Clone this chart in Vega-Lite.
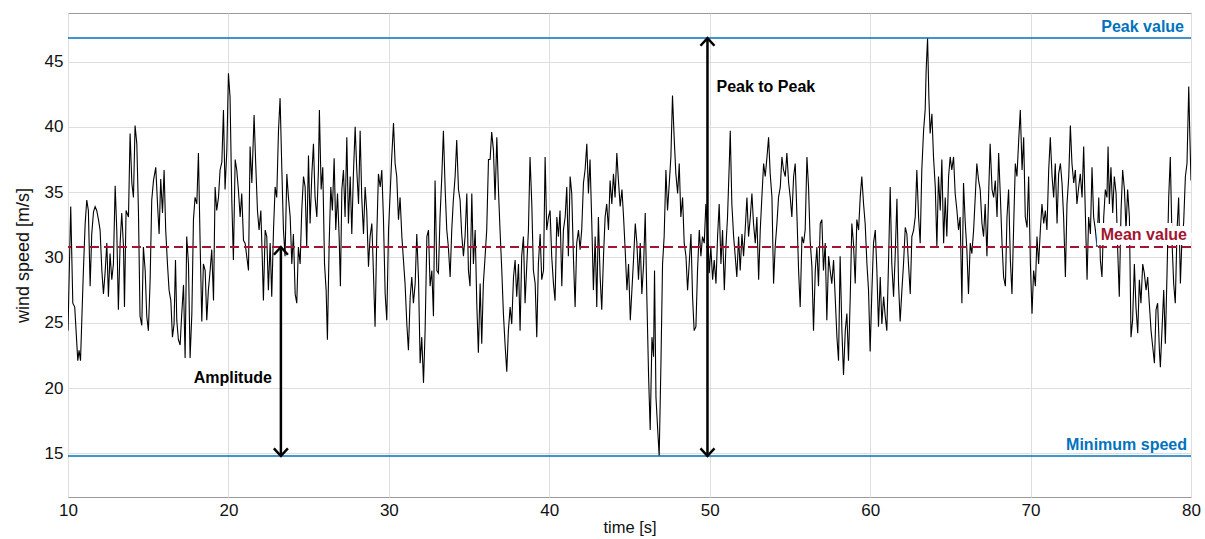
{
  "$schema": "https://vega.github.io/schema/vega-lite/v6.json",
  "width": 1123,
  "height": 484,
  "autosize": {"type": "none"},
  "padding": {"left": 68, "top": 13, "right": 14, "bottom": 42},
  "background": "white",
  "config": {
    "view": {"stroke": "#9a9a9a", "strokeWidth": 1},
    "font": "Liberation Sans",
    "axis": {
      "grid": true, "gridColor": "#dedede", "gridWidth": 1,
      "domain": false, "ticks": false,
      "labelFont": "Liberation Sans", "labelFontSize": 17, "labelColor": "#111111",
      "titleFont": "Liberation Sans", "titleFontSize": 17, "titleFontWeight": "normal", "titleColor": "#111111"
    }
  },
  "datasets": {
    "wind": [
      {"t":10.0,"v":24.4},{"t":10.09,"v":29.5},{"t":10.17,"v":33.9},{"t":10.3,"v":26.5},{"t":10.42,"v":26.2},{"t":10.61,"v":22.1},{"t":10.69,"v":22.9},{"t":10.78,"v":22.1},{"t":10.86,"v":25.2},{"t":10.96,"v":29.0},
      {"t":11.07,"v":32.6},{"t":11.17,"v":34.4},{"t":11.27,"v":33.6},{"t":11.38,"v":27.8},{"t":11.48,"v":31.8},{"t":11.59,"v":33.5},{"t":11.69,"v":33.9},{"t":11.79,"v":33.6},{"t":11.9,"v":32.9},{"t":12.0,"v":32.1},
      {"t":12.11,"v":29.0},{"t":12.21,"v":27.2},{"t":12.31,"v":28.8},{"t":12.42,"v":31.1},{"t":12.52,"v":27.0},{"t":12.62,"v":30.3},{"t":12.73,"v":28.3},{"t":12.83,"v":29.5},{"t":12.94,"v":35.5},{"t":13.04,"v":32.1},
      {"t":13.14,"v":26.0},{"t":13.25,"v":31.1},{"t":13.35,"v":33.4},{"t":13.46,"v":30.8},{"t":13.52,"v":26.2},{"t":13.62,"v":33.6},{"t":13.77,"v":33.1},{"t":13.87,"v":39.5},{"t":13.98,"v":35.7},{"t":14.08,"v":34.6},
      {"t":14.18,"v":40.1},{"t":14.29,"v":38.7},{"t":14.39,"v":33.6},{"t":14.49,"v":25.5},{"t":14.6,"v":24.8},{"t":14.7,"v":30.8},{"t":14.81,"v":29.0},{"t":14.91,"v":25.5},{"t":15.01,"v":24.4},{"t":15.12,"v":28.3},
      {"t":15.22,"v":34.4},{"t":15.33,"v":35.9},{"t":15.47,"v":36.9},{"t":15.58,"v":34.1},{"t":15.68,"v":31.8},{"t":15.78,"v":36.0},{"t":15.89,"v":33.4},{"t":15.99,"v":36.7},{"t":16.09,"v":32.1},{"t":16.2,"v":29.5},
      {"t":16.3,"v":27.5},{"t":16.41,"v":26.7},{"t":16.51,"v":23.9},{"t":16.61,"v":24.9},{"t":16.7,"v":29.8},{"t":16.78,"v":25.2},{"t":16.88,"v":23.7},{"t":16.99,"v":23.3},{"t":17.09,"v":25.7},{"t":17.2,"v":27.9},
      {"t":17.3,"v":22.3},{"t":17.4,"v":31.6},{"t":17.51,"v":29.5},{"t":17.61,"v":22.3},{"t":17.72,"v":25.7},{"t":17.82,"v":32.9},{"t":17.92,"v":34.6},{"t":18.03,"v":34.1},{"t":18.13,"v":38.0},{"t":18.24,"v":30.8},
      {"t":18.34,"v":25.1},{"t":18.44,"v":29.5},{"t":18.55,"v":29.0},{"t":18.65,"v":25.2},{"t":18.75,"v":27.5},{"t":18.86,"v":29.0},{"t":18.96,"v":30.6},{"t":19.07,"v":26.7},{"t":19.17,"v":35.4},{"t":19.27,"v":33.6},
      {"t":19.38,"v":34.6},{"t":19.48,"v":36.7},{"t":19.59,"v":37.3},{"t":19.69,"v":41.3},{"t":19.79,"v":35.2},{"t":19.9,"v":38.2},{"t":20.0,"v":44.1},{"t":20.1,"v":42.3},{"t":20.21,"v":34.4},{"t":20.31,"v":29.8},
      {"t":20.42,"v":37.5},{"t":20.52,"v":36.7},{"t":20.62,"v":35.2},{"t":20.73,"v":33.1},{"t":20.83,"v":34.9},{"t":20.94,"v":31.3},{"t":21.04,"v":31.1},{"t":21.14,"v":30.1},{"t":21.25,"v":29.0},{"t":21.35,"v":38.5},
      {"t":21.46,"v":35.7},{"t":21.6,"v":40.9},{"t":21.7,"v":37.2},{"t":21.81,"v":33.6},{"t":21.91,"v":32.1},{"t":22.02,"v":33.6},{"t":22.12,"v":29.5},{"t":22.18,"v":26.7},{"t":22.29,"v":32.1},{"t":22.39,"v":31.6},
      {"t":22.49,"v":27.5},{"t":22.6,"v":31.1},{"t":22.7,"v":27.0},{"t":22.81,"v":32.1},{"t":22.91,"v":35.4},{"t":23.01,"v":34.6},{"t":23.12,"v":39.7},{"t":23.22,"v":42.2},{"t":23.33,"v":36.7},{"t":23.43,"v":32.1},
      {"t":23.53,"v":30.1},{"t":23.64,"v":36.4},{"t":23.74,"v":34.6},{"t":23.85,"v":33.1},{"t":23.95,"v":29.5},{"t":24.05,"v":31.8},{"t":24.16,"v":27.2},{"t":24.26,"v":26.5},{"t":24.36,"v":30.8},{"t":24.47,"v":29.5},
      {"t":24.57,"v":33.6},{"t":24.68,"v":36.2},{"t":24.78,"v":35.4},{"t":24.88,"v":30.8},{"t":24.99,"v":37.8},{"t":25.09,"v":32.6},{"t":25.2,"v":36.4},{"t":25.3,"v":38.7},{"t":25.4,"v":34.6},{"t":25.51,"v":33.1},
      {"t":25.61,"v":36.7},{"t":25.67,"v":41.3},{"t":25.78,"v":35.2},{"t":25.88,"v":36.9},{"t":25.99,"v":29.5},{"t":26.09,"v":27.5},{"t":26.17,"v":23.7},{"t":26.28,"v":31.1},{"t":26.38,"v":35.4},{"t":26.48,"v":33.6},
      {"t":26.59,"v":37.6},{"t":26.69,"v":32.1},{"t":26.8,"v":34.9},{"t":26.9,"v":31.6},{"t":26.98,"v":27.8},{"t":27.07,"v":35.2},{"t":27.17,"v":36.7},{"t":27.27,"v":33.1},{"t":27.38,"v":39.2},{"t":27.48,"v":32.6},
      {"t":27.59,"v":36.2},{"t":27.69,"v":31.8},{"t":27.79,"v":36.4},{"t":27.9,"v":40.0},{"t":28.0,"v":36.7},{"t":28.11,"v":34.1},{"t":28.21,"v":39.7},{"t":28.31,"v":34.6},{"t":28.42,"v":31.8},{"t":28.52,"v":35.4},
      {"t":28.62,"v":33.6},{"t":28.73,"v":29.3},{"t":28.83,"v":31.6},{"t":28.94,"v":32.6},{"t":29.04,"v":28.8},{"t":29.14,"v":24.7},{"t":29.25,"v":31.8},{"t":29.35,"v":36.4},{"t":29.46,"v":35.4},{"t":29.56,"v":36.7},
      {"t":29.66,"v":33.1},{"t":29.77,"v":27.2},{"t":29.87,"v":25.2},{"t":29.98,"v":32.1},{"t":30.08,"v":34.9},{"t":30.18,"v":37.7},{"t":30.29,"v":40.3},{"t":30.39,"v":37.2},{"t":30.49,"v":36.2},{"t":30.6,"v":32.9},
      {"t":30.7,"v":34.6},{"t":30.81,"v":31.6},{"t":30.91,"v":29.8},{"t":31.01,"v":28.0},{"t":31.12,"v":24.9},{"t":31.22,"v":22.9},{"t":31.33,"v":27.0},{"t":31.43,"v":28.5},{"t":31.53,"v":26.5},{"t":31.64,"v":28.0},
      {"t":31.74,"v":31.8},{"t":31.85,"v":28.3},{"t":31.95,"v":21.9},{"t":32.05,"v":23.9},{"t":32.16,"v":20.4},{"t":32.26,"v":24.4},{"t":32.37,"v":31.6},{"t":32.47,"v":32.1},{"t":32.57,"v":27.8},{"t":32.68,"v":29.0},
      {"t":32.78,"v":25.5},{"t":32.88,"v":35.9},{"t":32.99,"v":29.0},{"t":33.09,"v":28.8},{"t":33.19,"v":33.1},{"t":33.3,"v":36.2},{"t":33.4,"v":39.7},{"t":33.51,"v":35.2},{"t":33.61,"v":32.1},{"t":33.71,"v":30.8},
      {"t":33.82,"v":28.5},{"t":33.92,"v":32.1},{"t":34.02,"v":34.4},{"t":34.13,"v":36.2},{"t":34.23,"v":39.0},{"t":34.34,"v":35.2},{"t":34.44,"v":34.4},{"t":34.54,"v":31.8},{"t":34.65,"v":30.1},{"t":34.75,"v":31.6},
      {"t":34.86,"v":34.9},{"t":34.96,"v":29.0},{"t":35.06,"v":27.8},{"t":35.17,"v":34.9},{"t":35.27,"v":29.5},{"t":35.38,"v":32.1},{"t":35.48,"v":26.5},{"t":35.58,"v":22.7},{"t":35.69,"v":28.0},{"t":35.79,"v":23.4},
      {"t":35.89,"v":28.0},{"t":36.0,"v":30.1},{"t":36.1,"v":32.1},{"t":36.21,"v":37.5},{"t":36.31,"v":37.5},{"t":36.41,"v":39.6},{"t":36.52,"v":38.2},{"t":36.62,"v":34.4},{"t":36.73,"v":39.2},{"t":36.83,"v":35.2},
      {"t":36.93,"v":32.1},{"t":37.04,"v":29.0},{"t":37.14,"v":25.7},{"t":37.25,"v":23.2},{"t":37.35,"v":21.25},{"t":37.45,"v":24.4},{"t":37.56,"v":26.2},{"t":37.66,"v":24.9},{"t":37.77,"v":28.5},{"t":37.87,"v":29.8},
      {"t":37.97,"v":27.0},{"t":38.08,"v":29.5},{"t":38.18,"v":24.4},{"t":38.28,"v":30.1},{"t":38.39,"v":31.6},{"t":38.49,"v":26.5},{"t":38.6,"v":29.5},{"t":38.7,"v":32.1},{"t":38.8,"v":37.7},{"t":38.91,"v":34.1},
      {"t":39.01,"v":29.0},{"t":39.12,"v":28.0},{"t":39.22,"v":23.9},{"t":39.32,"v":29.5},{"t":39.43,"v":31.8},{"t":39.53,"v":28.3},{"t":39.64,"v":29.0},{"t":39.74,"v":37.7},{"t":39.84,"v":32.1},{"t":39.95,"v":33.1},
      {"t":40.05,"v":33.6},{"t":40.15,"v":30.1},{"t":40.26,"v":28.0},{"t":40.36,"v":26.7},{"t":40.47,"v":33.1},{"t":40.57,"v":31.6},{"t":40.67,"v":33.6},{"t":40.78,"v":27.8},{"t":40.88,"v":32.1},{"t":40.99,"v":33.1},
      {"t":41.09,"v":35.4},{"t":41.19,"v":30.1},{"t":41.3,"v":36.2},{"t":41.4,"v":34.9},{"t":41.51,"v":29.8},{"t":41.61,"v":26.2},{"t":41.71,"v":31.1},{"t":41.82,"v":32.1},{"t":41.92,"v":30.6},{"t":42.02,"v":32.1},
      {"t":42.13,"v":35.7},{"t":42.23,"v":36.7},{"t":42.34,"v":38.7},{"t":42.44,"v":34.9},{"t":42.54,"v":37.5},{"t":42.65,"v":32.6},{"t":42.75,"v":27.5},{"t":42.86,"v":31.6},{"t":42.96,"v":26.2},{"t":43.06,"v":33.1},
      {"t":43.17,"v":28.5},{"t":43.27,"v":26.0},{"t":43.38,"v":30.1},{"t":43.48,"v":33.1},{"t":43.58,"v":34.1},{"t":43.69,"v":32.1},{"t":43.79,"v":35.9},{"t":43.9,"v":34.1},{"t":44.0,"v":36.4},{"t":44.1,"v":34.6},
      {"t":44.21,"v":38.0},{"t":44.31,"v":35.9},{"t":44.42,"v":33.9},{"t":44.53,"v":35.2},{"t":44.63,"v":33.1},{"t":44.73,"v":30.6},{"t":44.84,"v":27.5},{"t":44.94,"v":29.5},{"t":45.05,"v":25.2},{"t":45.15,"v":27.5},
      {"t":45.25,"v":29.8},{"t":45.36,"v":32.6},{"t":45.46,"v":31.1},{"t":45.56,"v":28.3},{"t":45.67,"v":31.1},{"t":45.77,"v":27.2},{"t":45.88,"v":29.5},{"t":45.98,"v":33.4},{"t":46.08,"v":27.0},{"t":46.19,"v":20.9},
      {"t":46.29,"v":16.8},{"t":46.4,"v":23.9},{"t":46.5,"v":22.4},{"t":46.56,"v":29.0},{"t":46.65,"v":19.3},{"t":46.75,"v":17.0},{"t":46.85,"v":14.8},{"t":46.96,"v":21.9},{"t":47.06,"v":29.5},{"t":47.16,"v":31.6},
      {"t":47.27,"v":36.7},{"t":47.37,"v":33.6},{"t":47.48,"v":35.7},{"t":47.58,"v":37.7},{"t":47.68,"v":42.4},{"t":47.79,"v":39.0},{"t":47.89,"v":36.4},{"t":48.0,"v":34.9},{"t":48.1,"v":37.2},{"t":48.2,"v":33.1},
      {"t":48.31,"v":34.6},{"t":48.41,"v":31.1},{"t":48.52,"v":30.1},{"t":48.62,"v":27.5},{"t":48.72,"v":29.5},{"t":48.83,"v":31.8},{"t":48.93,"v":27.0},{"t":49.03,"v":24.4},{"t":49.14,"v":24.7},{"t":49.24,"v":29.0},
      {"t":49.35,"v":32.1},{"t":49.45,"v":30.1},{"t":49.55,"v":31.6},{"t":49.66,"v":31.1},{"t":49.76,"v":34.1},{"t":49.87,"v":32.1},{"t":49.97,"v":28.8},{"t":50.07,"v":30.8},{"t":50.18,"v":28.3},{"t":50.28,"v":29.8},
      {"t":50.39,"v":28.0},{"t":50.49,"v":31.6},{"t":50.59,"v":34.1},{"t":50.7,"v":29.5},{"t":50.8,"v":32.1},{"t":50.91,"v":27.5},{"t":51.01,"v":30.8},{"t":51.11,"v":33.1},{"t":51.22,"v":37.2},{"t":51.28,"v":39.7},
      {"t":51.38,"v":34.1},{"t":51.49,"v":31.6},{"t":51.59,"v":30.1},{"t":51.69,"v":28.5},{"t":51.8,"v":31.6},{"t":51.9,"v":29.0},{"t":52.01,"v":31.8},{"t":52.11,"v":30.1},{"t":52.21,"v":32.1},{"t":52.32,"v":34.6},
      {"t":52.42,"v":31.6},{"t":52.53,"v":33.1},{"t":52.63,"v":34.9},{"t":52.73,"v":32.6},{"t":52.84,"v":31.1},{"t":52.94,"v":33.1},{"t":53.05,"v":28.3},{"t":53.15,"v":32.1},{"t":53.25,"v":34.6},{"t":53.36,"v":37.2},
      {"t":53.46,"v":36.2},{"t":53.57,"v":37.7},{"t":53.67,"v":39.2},{"t":53.77,"v":36.4},{"t":53.88,"v":34.6},{"t":53.98,"v":28.0},{"t":54.08,"v":30.8},{"t":54.19,"v":32.6},{"t":54.29,"v":34.6},{"t":54.4,"v":35.4},
      {"t":54.5,"v":37.7},{"t":54.6,"v":36.7},{"t":54.71,"v":36.2},{"t":54.81,"v":38.0},{"t":54.92,"v":35.7},{"t":55.02,"v":34.6},{"t":55.12,"v":33.1},{"t":55.23,"v":36.2},{"t":55.33,"v":37.2},{"t":55.44,"v":33.1},
      {"t":55.54,"v":29.0},{"t":55.64,"v":26.2},{"t":55.75,"v":31.6},{"t":55.85,"v":31.1},{"t":55.95,"v":32.1},{"t":56.06,"v":37.7},{"t":56.16,"v":35.4},{"t":56.26,"v":31.3},{"t":56.37,"v":29.3},{"t":56.47,"v":24.4},
      {"t":56.58,"v":29.0},{"t":56.68,"v":30.8},{"t":56.78,"v":27.8},{"t":56.89,"v":32.6},{"t":56.99,"v":32.9},{"t":57.09,"v":29.0},{"t":57.2,"v":31.1},{"t":57.3,"v":25.2},{"t":57.41,"v":30.1},{"t":57.51,"v":29.0},
      {"t":57.61,"v":28.0},{"t":57.72,"v":29.8},{"t":57.82,"v":27.0},{"t":57.93,"v":23.9},{"t":58.03,"v":22.1},{"t":58.13,"v":30.1},{"t":58.24,"v":24.4},{"t":58.34,"v":21.0},{"t":58.45,"v":24.4},{"t":58.55,"v":25.7},
      {"t":58.65,"v":22.1},{"t":58.76,"v":27.0},{"t":58.86,"v":32.6},{"t":58.96,"v":31.1},{"t":59.07,"v":28.0},{"t":59.17,"v":32.9},{"t":59.28,"v":32.1},{"t":59.38,"v":34.6},{"t":59.48,"v":36.2},{"t":59.59,"v":34.1},
      {"t":59.69,"v":32.6},{"t":59.8,"v":29.5},{"t":59.9,"v":27.5},{"t":60.0,"v":22.8},{"t":60.11,"v":27.5},{"t":60.21,"v":31.1},{"t":60.32,"v":32.1},{"t":60.42,"v":29.0},{"t":60.52,"v":24.7},{"t":60.63,"v":28.5},
      {"t":60.73,"v":24.9},{"t":60.84,"v":27.0},{"t":60.94,"v":25.5},{"t":61.04,"v":24.4},{"t":61.15,"v":29.8},{"t":61.25,"v":35.4},{"t":61.35,"v":29.5},{"t":61.46,"v":27.0},{"t":61.56,"v":30.1},{"t":61.67,"v":34.5},
      {"t":61.77,"v":28.0},{"t":61.87,"v":25.1},{"t":61.98,"v":27.5},{"t":62.08,"v":29.5},{"t":62.19,"v":32.3},{"t":62.29,"v":31.8},{"t":62.39,"v":29.5},{"t":62.5,"v":27.2},{"t":62.6,"v":31.6},{"t":62.71,"v":32.1},
      {"t":62.81,"v":33.1},{"t":62.91,"v":36.7},{"t":63.02,"v":33.1},{"t":63.12,"v":31.1},{"t":63.22,"v":36.7},{"t":63.33,"v":39.7},{"t":63.43,"v":41.3},{"t":63.49,"v":44.3},{"t":63.58,"v":46.8},{"t":63.66,"v":42.3},
      {"t":63.74,"v":39.5},{"t":63.85,"v":41.0},{"t":63.95,"v":37.7},{"t":64.06,"v":35.4},{"t":64.16,"v":30.8},{"t":64.26,"v":36.2},{"t":64.37,"v":33.6},{"t":64.47,"v":37.5},{"t":64.58,"v":31.1},{"t":64.68,"v":34.6},
      {"t":64.78,"v":31.6},{"t":64.89,"v":36.2},{"t":64.99,"v":37.7},{"t":65.09,"v":36.7},{"t":65.2,"v":37.7},{"t":65.3,"v":34.9},{"t":65.41,"v":33.6},{"t":65.51,"v":32.1},{"t":65.61,"v":33.1},{"t":65.72,"v":26.5},
      {"t":65.82,"v":35.7},{"t":65.93,"v":32.6},{"t":66.03,"v":30.6},{"t":66.13,"v":27.2},{"t":66.24,"v":31.1},{"t":66.34,"v":30.3},{"t":66.45,"v":32.1},{"t":66.55,"v":34.6},{"t":66.65,"v":37.2},{"t":66.76,"v":35.9},
      {"t":66.86,"v":35.2},{"t":66.97,"v":32.6},{"t":67.07,"v":31.6},{"t":67.17,"v":34.1},{"t":67.28,"v":30.1},{"t":67.38,"v":34.6},{"t":67.48,"v":38.7},{"t":67.6,"v":35.2},{"t":67.7,"v":34.6},{"t":67.8,"v":35.9},
      {"t":67.91,"v":33.1},{"t":68.01,"v":38.0},{"t":68.12,"v":34.6},{"t":68.22,"v":31.1},{"t":68.32,"v":28.5},{"t":68.43,"v":27.8},{"t":68.53,"v":33.1},{"t":68.63,"v":35.2},{"t":68.74,"v":29.8},{"t":68.84,"v":27.2},
      {"t":68.95,"v":32.6},{"t":69.05,"v":37.2},{"t":69.15,"v":36.2},{"t":69.26,"v":39.0},{"t":69.36,"v":41.3},{"t":69.47,"v":36.7},{"t":69.57,"v":39.2},{"t":69.67,"v":33.1},{"t":69.78,"v":32.3},{"t":69.88,"v":36.2},
      {"t":69.99,"v":29.5},{"t":70.09,"v":25.7},{"t":70.19,"v":29.0},{"t":70.3,"v":27.8},{"t":70.4,"v":31.6},{"t":70.5,"v":29.5},{"t":70.61,"v":32.1},{"t":70.71,"v":34.1},{"t":70.82,"v":32.6},{"t":70.92,"v":33.6},
      {"t":71.02,"v":32.1},{"t":71.13,"v":36.7},{"t":71.23,"v":39.2},{"t":71.34,"v":36.2},{"t":71.44,"v":34.6},{"t":71.54,"v":37.2},{"t":71.65,"v":32.6},{"t":71.75,"v":36.4},{"t":71.86,"v":37.2},{"t":71.96,"v":35.7},
      {"t":72.06,"v":33.1},{"t":72.17,"v":28.5},{"t":72.27,"v":34.1},{"t":72.38,"v":36.2},{"t":72.48,"v":40.1},{"t":72.58,"v":37.2},{"t":72.69,"v":35.7},{"t":72.79,"v":36.7},{"t":72.89,"v":34.1},{"t":73.0,"v":35.4},
      {"t":73.1,"v":36.4},{"t":73.21,"v":34.6},{"t":73.31,"v":38.5},{"t":73.41,"v":33.6},{"t":73.52,"v":28.3},{"t":73.62,"v":33.1},{"t":73.73,"v":31.8},{"t":73.83,"v":36.9},{"t":73.93,"v":33.1},{"t":74.04,"v":32.1},
      {"t":74.14,"v":30.8},{"t":74.25,"v":34.6},{"t":74.35,"v":29.8},{"t":74.45,"v":28.5},{"t":74.56,"v":33.1},{"t":74.66,"v":35.2},{"t":74.76,"v":34.6},{"t":74.83,"v":38.5},{"t":74.91,"v":34.1},{"t":75.01,"v":36.9},
      {"t":75.12,"v":33.4},{"t":75.22,"v":36.2},{"t":75.33,"v":34.9},{"t":75.43,"v":30.6},{"t":75.53,"v":27.0},{"t":75.64,"v":33.6},{"t":75.74,"v":36.7},{"t":75.85,"v":35.2},{"t":75.95,"v":32.1},{"t":76.05,"v":35.2},
      {"t":76.16,"v":33.1},{"t":76.26,"v":23.9},{"t":76.36,"v":25.2},{"t":76.47,"v":29.5},{"t":76.57,"v":26.2},{"t":76.68,"v":24.2},{"t":76.78,"v":28.3},{"t":76.88,"v":26.5},{"t":76.99,"v":29.5},{"t":77.09,"v":28.8},
      {"t":77.2,"v":27.5},{"t":77.3,"v":28.5},{"t":77.4,"v":26.5},{"t":77.51,"v":24.4},{"t":77.61,"v":23.2},{"t":77.72,"v":21.9},{"t":77.82,"v":26.0},{"t":77.92,"v":26.5},{"t":78.03,"v":22.9},{"t":78.09,"v":21.6},
      {"t":78.19,"v":24.4},{"t":78.3,"v":27.5},{"t":78.4,"v":23.4},{"t":78.51,"v":29.0},{"t":78.61,"v":34.6},{"t":78.71,"v":37.7},{"t":78.82,"v":31.1},{"t":78.92,"v":28.0},{"t":79.02,"v":26.5},{"t":79.13,"v":32.1},
      {"t":79.23,"v":34.6},{"t":79.34,"v":28.0},{"t":79.44,"v":31.6},{"t":79.54,"v":32.6},{"t":79.65,"v":36.2},{"t":79.75,"v":37.2},{"t":79.86,"v":43.1},{"t":79.92,"v":39.7},{"t":80.0,"v":35.9}
    ],
    "levels": [
      {"level": "Peak value", "v": 46.8},
      {"level": "Mean value", "v": 30.8},
      {"level": "Minimum speed", "v": 14.8}
    ],
    "arrows": [
      {"label": "Amplitude", "t": 23.27, "lo": 14.8, "hi": 30.8, "labelV": 20.75},
      {"label": "Peak to Peak", "t": 49.86, "lo": 14.8, "hi": 46.8, "labelV": 43.05}
    ]
  },
  "encoding": {
    "x": {"type": "quantitative", "scale": {"domain": [10, 80], "nice": false, "zero": false},
          "axis": {"title": "time [s]", "values": [10, 20, 30, 40, 50, 60, 70, 80], "labelFlush": false, "labelPadding": 5, "titlePadding": 1, "titleFontSize": 16.5}},
    "y": {"type": "quantitative", "scale": {"domain": [11.66, 48.72], "nice": false, "zero": false},
          "axis": {"title": "wind speed [m/s]", "values": [15, 20, 25, 30, 35, 40, 45], "labelPadding": 5, "titlePadding": 12, "titleFontSize": 18}}
  },
  "layer": [
    {
      "data": {"name": "wind"},
      "mark": {"type": "line", "color": "black", "strokeWidth": 1.1, "clip": true, "interpolate": "linear"},
      "encoding": {"x": {"field": "t", "type": "quantitative"}, "y": {"field": "v", "type": "quantitative"}}
    },
    {
      "data": {"name": "levels"},
      "transform": [{"filter": "datum.level == 'Mean value'"}],
      "mark": {"type": "text", "align": "right", "baseline": "middle", "dx": -4, "dy": -12, "fontSize": 16, "fontWeight": "bold", "font": "Liberation Sans", "stroke": "white", "strokeWidth": 10, "strokeJoin": "miter", "color": "white"},
      "encoding": {"x": {"datum": 80, "type": "quantitative"}, "y": {"field": "v", "type": "quantitative"}, "text": {"field": "level"}}
    },
    {
      "data": {"name": "levels"},
      "transform": [{"filter": "datum.level != 'Mean value'"}],
      "mark": {"type": "rule", "color": "#0072BD", "strokeWidth": 1.5},
      "encoding": {"y": {"field": "v", "type": "quantitative"}}
    },
    {
      "data": {"name": "levels"},
      "transform": [{"filter": "datum.level == 'Mean value'"}],
      "mark": {"type": "rule", "color": "#A2142F", "strokeWidth": 2, "strokeDash": [9, 5]},
      "encoding": {"y": {"field": "v", "type": "quantitative"}}
    },
    {
      "data": {"name": "arrows"},
      "mark": {"type": "rule", "color": "black", "strokeWidth": 2.5},
      "encoding": {"x": {"field": "t", "type": "quantitative"}, "y": {"field": "lo", "type": "quantitative"}, "y2": {"field": "hi"}}
    },
    {
      "data": {"name": "arrows"},
      "mark": {"type": "point", "shape": "M-1,-1.1L0,0L1,-1.1", "filled": false, "stroke": "black", "strokeWidth": 2.5, "size": 196, "opacity": 1},
      "encoding": {"x": {"field": "t", "type": "quantitative"}, "y": {"field": "lo", "type": "quantitative"}}
    },
    {
      "data": {"name": "arrows"},
      "mark": {"type": "point", "shape": "M-1,1.1L0,0L1,1.1", "filled": false, "stroke": "black", "strokeWidth": 2.5, "size": 196, "opacity": 1},
      "encoding": {"x": {"field": "t", "type": "quantitative"}, "y": {"field": "hi", "type": "quantitative"}}
    },
    {
      "data": {"name": "arrows"},
      "transform": [{"filter": "datum.label == 'Amplitude'"}],
      "mark": {"type": "text", "align": "right", "baseline": "middle", "dx": -9, "fontSize": 16, "fontWeight": "bold", "font": "Liberation Sans", "color": "black"},
      "encoding": {"x": {"field": "t", "type": "quantitative"}, "y": {"field": "labelV", "type": "quantitative"}, "text": {"field": "label"}}
    },
    {
      "data": {"name": "arrows"},
      "transform": [{"filter": "datum.label == 'Peak to Peak'"}],
      "mark": {"type": "text", "align": "left", "baseline": "middle", "dx": 9, "fontSize": 16, "fontWeight": "bold", "font": "Liberation Sans", "color": "black"},
      "encoding": {"x": {"field": "t", "type": "quantitative"}, "y": {"field": "labelV", "type": "quantitative"}, "text": {"field": "label"}}
    },
    {
      "data": {"name": "levels"},
      "transform": [{"filter": "datum.level == 'Peak value'"}],
      "mark": {"type": "text", "align": "right", "baseline": "middle", "dx": -7, "dy": -11, "fontSize": 16, "fontWeight": "bold", "font": "Liberation Sans", "color": "#0072BD"},
      "encoding": {"x": {"datum": 80, "type": "quantitative"}, "y": {"field": "v", "type": "quantitative"}, "text": {"field": "level"}}
    },
    {
      "data": {"name": "levels"},
      "transform": [{"filter": "datum.level == 'Minimum speed'"}],
      "mark": {"type": "text", "align": "right", "baseline": "middle", "dx": -4, "dy": -11, "fontSize": 16, "fontWeight": "bold", "font": "Liberation Sans", "color": "#0072BD"},
      "encoding": {"x": {"datum": 80, "type": "quantitative"}, "y": {"field": "v", "type": "quantitative"}, "text": {"field": "level"}}
    },
    {
      "data": {"name": "levels"},
      "transform": [{"filter": "datum.level == 'Mean value'"}],
      "mark": {"type": "text", "align": "right", "baseline": "middle", "dx": -4, "dy": -12, "fontSize": 16, "fontWeight": "bold", "font": "Liberation Sans", "color": "#A2142F"},
      "encoding": {"x": {"datum": 80, "type": "quantitative"}, "y": {"field": "v", "type": "quantitative"}, "text": {"field": "level"}}
    }
  ]
}
